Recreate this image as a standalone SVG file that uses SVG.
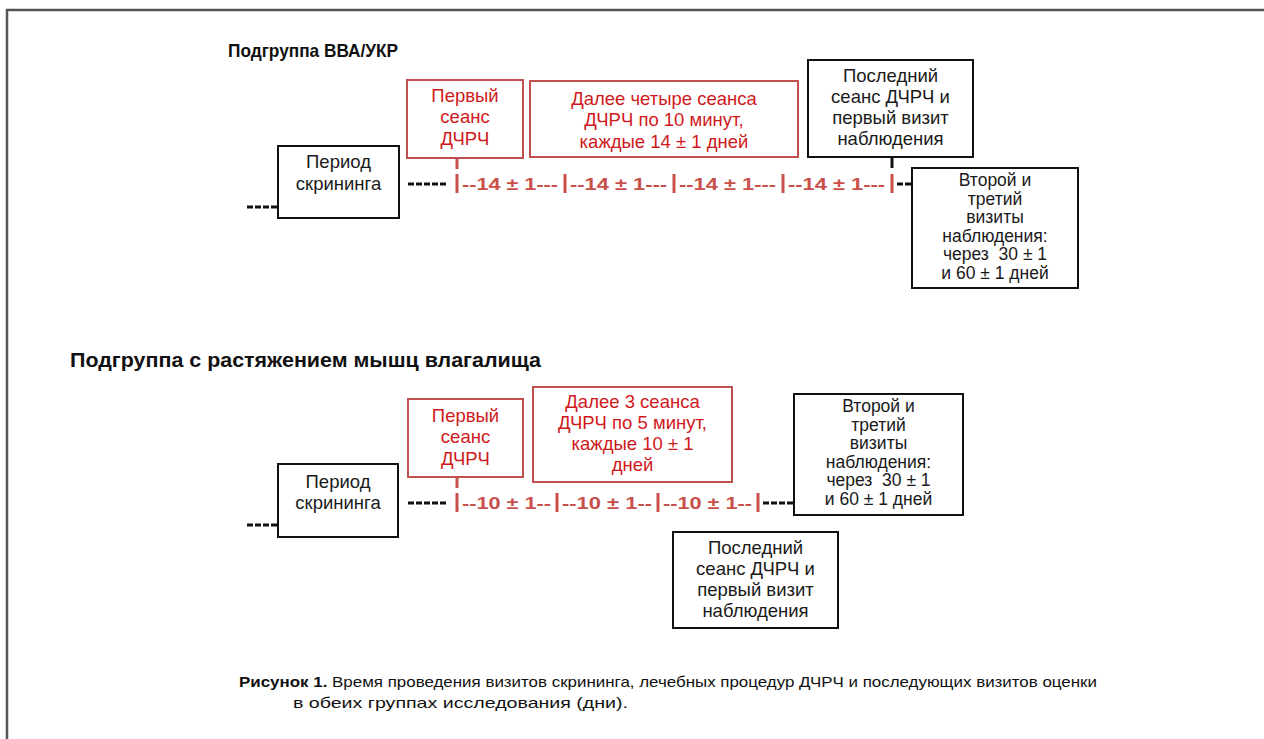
<svg xmlns="http://www.w3.org/2000/svg" width="1264" height="739" viewBox="0 0 1264 739">
<style>
text{font-family:"Liberation Sans",Arial,sans-serif}
.title{font-size:18.5px;font-weight:bold;fill:#111}
.bb{fill:#fff;stroke:#111;stroke-width:2}
.rb{fill:#fff;stroke:#c0504d;stroke-width:2}
.bt{font-size:18.5px;fill:#1a1a1a;text-anchor:middle}
.ft{font-size:17.5px;fill:#1a1a1a;text-anchor:middle}
.rt{font-size:18.5px;fill:#d0191c;text-anchor:middle}
.tl{font-size:17px;font-weight:bold;fill:#c9504a}
.bar{stroke:#c9504a;stroke-width:3}
.dash{stroke:#111;stroke-width:3;stroke-dasharray:6,2;fill:none}
.tick{stroke:#111;stroke-width:3}
.rtick{stroke:#c9504a;stroke-width:3}
.cap{font-family:"Liberation Sans Narrow","Liberation Sans",Arial,sans-serif;font-size:15px;fill:#111}
</style>
<rect x="7" y="10" width="1280" height="760" fill="#fff" stroke="#555" stroke-width="2.5"/>

<text class="title" x="228" y="57" textLength="170" lengthAdjust="spacingAndGlyphs">Подгруппа ВВА/УКР</text>
<text class="title" x="70" y="367" style="font-size:19.5px" textLength="471" lengthAdjust="spacingAndGlyphs">Подгруппа с растяжением мышц влагалища</text>

<g id="connectors">
  <!-- top -->
  <line class="dash" x1="247" y1="207" x2="278" y2="207"/>
  <line class="dash" x1="408" y1="184" x2="448" y2="184"/>
  <line class="rtick" x1="457" y1="158" x2="457" y2="169"/>
  <line class="tick" x1="892" y1="157" x2="892" y2="168"/>
  <line class="dash" x1="897" y1="184" x2="912" y2="184"/>
  <line class="bar" x1="457" y1="174" x2="457" y2="193"/>
  <line class="bar" x1="565" y1="174" x2="565" y2="193"/>
  <line class="bar" x1="674" y1="174" x2="674" y2="193"/>
  <line class="bar" x1="783" y1="174" x2="783" y2="193"/>
  <line class="bar" x1="892" y1="174" x2="892" y2="193"/>
  <text class="tl" x="462" y="190" textLength="96" lengthAdjust="spacingAndGlyphs">--14 ± 1---</text>
  <text class="tl" x="570" y="190" textLength="97" lengthAdjust="spacingAndGlyphs">--14 ± 1---</text>
  <text class="tl" x="679" y="190" textLength="97" lengthAdjust="spacingAndGlyphs">--14 ± 1---</text>
  <text class="tl" x="788" y="190" textLength="97" lengthAdjust="spacingAndGlyphs">--14 ± 1---</text>
  <!-- bottom -->
  <line class="dash" x1="247" y1="525" x2="278" y2="525"/>
  <line class="dash" x1="408" y1="503" x2="448" y2="503"/>
  <line class="rtick" x1="457" y1="477" x2="457" y2="488"/>
  <line class="dash" x1="763" y1="503" x2="794" y2="503"/>
  <line class="bar" x1="457" y1="493" x2="457" y2="512"/>
  <line class="bar" x1="557" y1="493" x2="557" y2="512"/>
  <line class="bar" x1="658" y1="493" x2="658" y2="512"/>
  <line class="bar" x1="758" y1="493" x2="758" y2="512"/>
  <text class="tl" x="462" y="509" textLength="89" lengthAdjust="spacingAndGlyphs">--10 ± 1--</text>
  <text class="tl" x="562" y="509" textLength="90" lengthAdjust="spacingAndGlyphs">--10 ± 1--</text>
  <text class="tl" x="663" y="509" textLength="89" lengthAdjust="spacingAndGlyphs">--10 ± 1--</text>
</g>

<g id="top-screening">
  <rect class="bb" x="278" y="146" width="121" height="72"/>
  <text class="bt" x="338.5" y="168">Период</text>
  <text class="bt" x="338.5" y="190">скрининга</text>
</g>
<g id="top-first">
  <rect class="rb" x="407" y="80" width="116" height="78"/>
  <text class="rt" x="465" y="102">Первый</text>
  <text class="rt" x="465" y="123">сеанс</text>
  <text class="rt" x="465" y="145">ДЧРЧ</text>
</g>
<g id="top-further">
  <rect class="rb" x="530" y="81" width="268" height="76"/>
  <text class="rt" x="664" y="105">Далее четыре сеанса</text>
  <text class="rt" x="664" y="126">ДЧРЧ по 10 минут,</text>
  <text class="rt" x="664" y="148">каждые 14 ± 1 дней</text>
</g>
<g id="top-last">
  <rect class="bb" x="808" y="60" width="165" height="97"/>
  <text class="bt" x="890.5" y="82">Последний</text>
  <text class="bt" x="890.5" y="103">сеанс ДЧРЧ и</text>
  <text class="bt" x="890.5" y="124">первый визит</text>
  <text class="bt" x="890.5" y="145">наблюдения</text>
</g>
<g id="top-followup">
  <rect class="bb" x="912" y="168" width="166" height="120"/>
  <text class="ft" x="995" y="186">Второй и</text>
  <text class="ft" x="995" y="204.5">третий</text>
  <text class="ft" x="995" y="223">визиты</text>
  <text class="ft" x="995" y="241.5">наблюдения:</text>
  <text class="ft" x="995" y="260" xml:space="preserve">через  30 ± 1</text>
  <text class="ft" x="995" y="278.5">и 60 ± 1 дней</text>
</g>

<g id="bottom-screening">
  <rect class="bb" x="278" y="464" width="120" height="73"/>
  <text class="bt" x="338" y="488">Период</text>
  <text class="bt" x="338" y="509">скрининга</text>
</g>
<g id="bottom-first">
  <rect class="rb" x="408" y="399" width="115" height="78"/>
  <text class="rt" x="465.5" y="422">Первый</text>
  <text class="rt" x="465.5" y="443">сеанс</text>
  <text class="rt" x="465.5" y="465">ДЧРЧ</text>
</g>
<g id="bottom-further">
  <rect class="rb" x="533" y="387" width="199" height="95"/>
  <text class="rt" x="632.5" y="408">Далее 3 сеанса</text>
  <text class="rt" x="632.5" y="429">ДЧРЧ по 5 минут,</text>
  <text class="rt" x="632.5" y="450">каждые 10 ± 1</text>
  <text class="rt" x="632.5" y="471">дней</text>
</g>
<g id="bottom-followup">
  <rect class="bb" x="794" y="394" width="169" height="121"/>
  <text class="ft" x="878.5" y="412">Второй и</text>
  <text class="ft" x="878.5" y="430.6">третий</text>
  <text class="ft" x="878.5" y="449.2">визиты</text>
  <text class="ft" x="878.5" y="467.8">наблюдения:</text>
  <text class="ft" x="878.5" y="486.4" xml:space="preserve">через  30 ± 1</text>
  <text class="ft" x="878.5" y="505">и 60 ± 1 дней</text>
</g>
<g id="bottom-last">
  <rect class="bb" x="673" y="532" width="165" height="96"/>
  <text class="bt" x="755.5" y="554">Последний</text>
  <text class="bt" x="755.5" y="575">сеанс ДЧРЧ и</text>
  <text class="bt" x="755.5" y="596">первый визит</text>
  <text class="bt" x="755.5" y="617">наблюдения</text>
</g>

<g id="caption">
  <text class="cap" x="239" y="687" textLength="858" lengthAdjust="spacingAndGlyphs"><tspan font-weight="bold">Рисунок 1.</tspan> Время проведения визитов скрининга, лечебных процедур ДЧРЧ и последующих визитов оценки</text>
  <text class="cap" x="293" y="708" textLength="335" lengthAdjust="spacingAndGlyphs">в обеих группах исследования (дни).</text>
</g>
</svg>
